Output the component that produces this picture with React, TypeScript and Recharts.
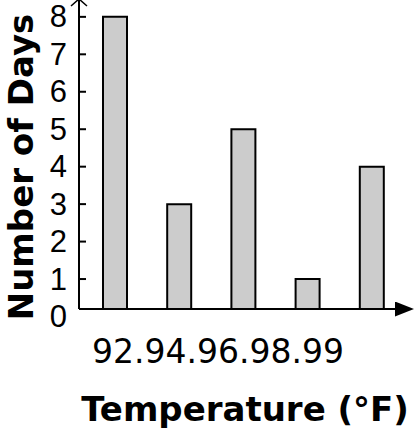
import React from 'react';
import { BarChart, Bar, XAxis, YAxis, Customized } from 'recharts';

const categories = ['92', '94', '96', '98', '99'];
const days = [8, 3, 5, 1, 4];
const yTicks = [0, 1, 2, 3, 4, 5, 6, 7, 8];
const xTitle = 'Temperature (°F)';
const yTitle = 'Number of Days';

const data = categories.map((c, i) => ({ temp: c, days: days[i] }));

const YTick = (props: any) => {
  const { x, y, payload } = props;
  const axisX = x + 12;
  return (
    <g>
      {payload.value > 0 && (
        <line x1={axisX} x2={axisX + 7} y1={y} y2={y} stroke="#000" strokeWidth={2} />
      )}
      <text
        x={x}
        y={y}
        textAnchor="end"
        dominantBaseline="central"
        fontFamily="'Liberation Sans', Arial, sans-serif"
        fontSize={31}
        fill="#000"
      >
        {payload.value}
      </text>
    </g>
  );
};

const Texts = () => (
  <g>
    <text
      x={218}
      y={363}
      textAnchor="middle"
      fontFamily="'DejaVu Sans', sans-serif"
      fontSize={33}
      fill="#000"
    >
      {categories.join('.')}
    </text>
    <text
      x={245}
      y={421}
      textAnchor="middle"
      fontFamily="'DejaVu Sans', sans-serif"
      fontWeight="bold"
      fontSize={34}
      fill="#000"
    >
      {xTitle}
    </text>
    <text
      x={0}
      y={0}
      transform="translate(33,167) rotate(-90)"
      textAnchor="middle"
      fontFamily="'DejaVu Sans', sans-serif"
      fontWeight="bold"
      fontSize={34}
      fill="#000"
    >
      {yTitle}
    </text>
  </g>
);

export default function App() {
  return (
    <div style={{ position: 'absolute', left: 0, top: 0, width: 414, height: 432, background: '#fff' }}>
      <BarChart
        width={414}
        height={432}
        data={data}
        margin={{ top: 0, right: 4, bottom: 0, left: 0 }}
        barCategoryGap={0}
      >
        <defs>
          <marker
            id="arrowRight"
            markerUnits="userSpaceOnUse"
            viewBox="0 0 19 15"
            markerWidth={19}
            markerHeight={15}
            refX={15}
            refY={7.5}
            orient="auto"
          >
            <path d="M0,0 L19,7.5 L0,15 Z" fill="#000" />
          </marker>
          <marker
            id="arrowUp"
            markerUnits="userSpaceOnUse"
            viewBox="-8 -10 12 20"
            markerWidth={12}
            markerHeight={20}
            refX={0}
            refY={0}
            orient="auto-start-reverse"
          >
            <path d="M-6,-8 L1,0 L-6,8" fill="none" stroke="#000" strokeWidth={1.5} />
          </marker>
        </defs>
        <XAxis
          dataKey="temp"
          type="category"
          height={123}
          tick={false}
          tickLine={false}
          padding={{ left: 4, right: 6 }}
          axisLine={{ stroke: '#000', strokeWidth: 2, markerEnd: 'url(#arrowRight)' }}
        />
        <YAxis
          type="number"
          width={79}
          domain={[0.2, 8.45]}
          allowDataOverflow
          ticks={yTicks}
          interval={0}
          tickLine={false}
          tickSize={0}
          tickMargin={12}
          tick={<YTick />}
          axisLine={{ stroke: '#000', strokeWidth: 2, markerStart: 'url(#arrowUp)' }}
        />
        <Bar
          dataKey="days"
          barSize={24}
          fill="#cccccc"
          stroke="#000"
          strokeWidth={2}
          isAnimationActive={false}
        />
        <Customized component={Texts} />
      </BarChart>
    </div>
  );
}
